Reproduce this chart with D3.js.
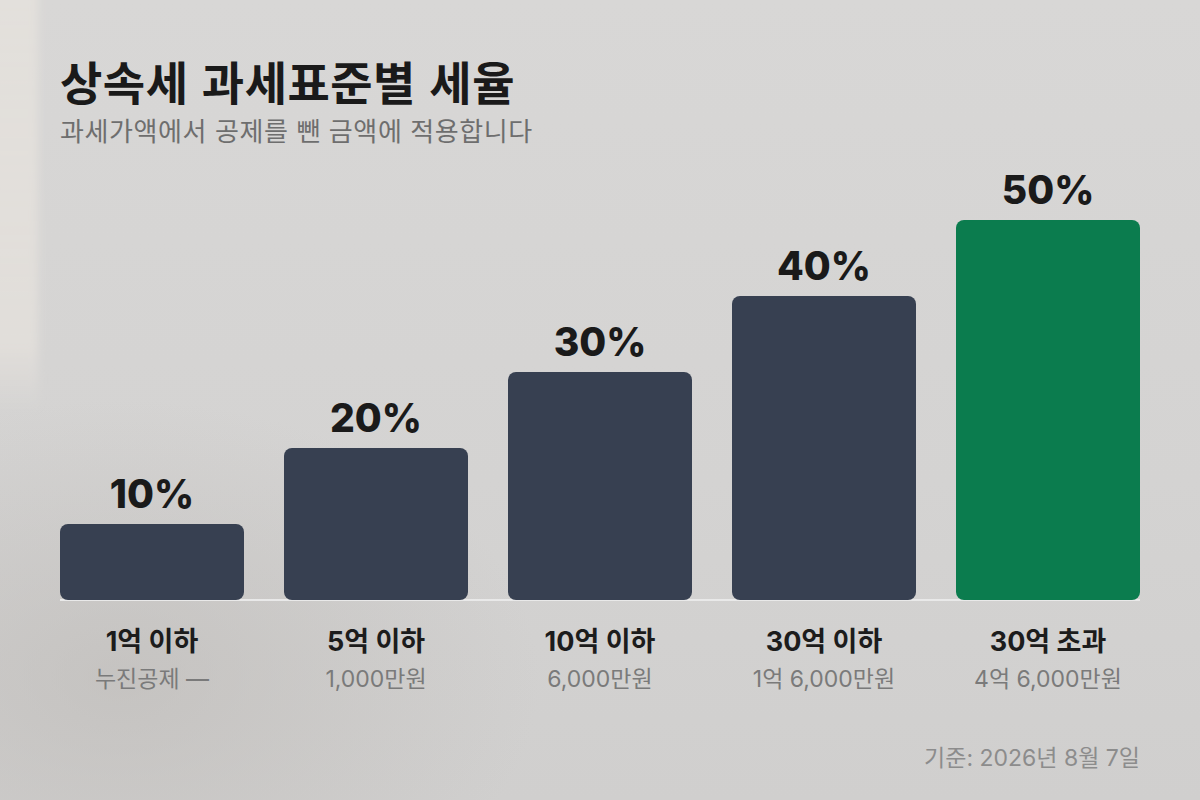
<!DOCTYPE html>
<html lang="ko">
<head>
<meta charset="utf-8">
<script src="https://cdn.jsdelivr.net/npm/d3@7"></script>
<style>
  html, body { margin: 0; padding: 0; background: #d3d2d1; }
  svg { display: block; }
</style>
</head>
<body>
<svg id="chart" width="1200" height="800"></svg>
<script>
const categories = ["1억 이하", "5억 이하", "10억 이하", "30억 이하", "30억 초과"];
const deductions = ["누진공제 —", "1,000만원", "6,000만원", "1억 6,000만원", "4억 6,000만원"];
const rates = [10, 20, 30, 40, 50];
const highlight = "30억 초과";
const title = "상속세 과세표준별 세율";
const subtitle = "과세가액에서 공제를 뺀 금액에 적용합니다";
const footnote = "기준: 2026년 8월 7일";

const W = 1200, H = 800;
const svg = d3.select("#chart");
const defs = svg.append("defs");
const KR = "Inter, 'Noto Sans CJK KR', sans-serif";

// background
const bgLin = defs.append("linearGradient").attr("id", "bgLin").attr("x1", 0).attr("y1", 0).attr("x2", 0).attr("y2", 1);
bgLin.append("stop").attr("offset", 0).attr("stop-color", "#d8d7d6");
bgLin.append("stop").attr("offset", 0.6).attr("stop-color", "#d4d3d2");
bgLin.append("stop").attr("offset", 1).attr("stop-color", "#d0cfce");
svg.append("rect").attr("width", W).attr("height", H).attr("fill", "url(#bgLin)");

const dark = defs.append("radialGradient").attr("id", "darkBL").attr("cx", 0.1).attr("cy", 0.85).attr("r", 0.35);
dark.append("stop").attr("offset", 0).attr("stop-color", "#bdbab7").attr("stop-opacity", 0.6);
dark.append("stop").attr("offset", 1).attr("stop-color", "#bdbab7").attr("stop-opacity", 0);
svg.append("rect").attr("width", W).attr("height", H).attr("fill", "url(#darkBL)");

const strip = defs.append("linearGradient").attr("id", "strip").attr("x1", 0).attr("y1", 0).attr("x2", 0).attr("y2", 1);
strip.append("stop").attr("offset", 0).attr("stop-color", "#e6e2dd").attr("stop-opacity", 0.8);
strip.append("stop").attr("offset", 0.85).attr("stop-color", "#e6e2dd").attr("stop-opacity", 0.7);
strip.append("stop").attr("offset", 1).attr("stop-color", "#e6e2dd").attr("stop-opacity", 0);
const blur = defs.append("filter").attr("id", "soft").attr("x", -1).attr("y", -1).attr("width", 3).attr("height", 3);
blur.append("feGaussianBlur").attr("stdDeviation", 4);
svg.append("rect").attr("x", -10).attr("y", -10).attr("width", 48).attr("height", 420)
  .attr("fill", "url(#strip)").attr("filter", "url(#soft)");

// scales
const x = d3.scaleBand().domain(categories).range([60, 1140]).paddingInner(40 / 224).paddingOuter(0);
const y = d3.scaleLinear().domain([0, 50]).range([600, 220]);

// baseline
svg.append("line").attr("x1", 60).attr("x2", 1140).attr("y1", y(0)).attr("y2", y(0))
  .attr("stroke", "#e9e9e9").attr("stroke-width", 2);

const data = categories.map((c, i) => ({ c, d: deductions[i], v: rates[i] }));

svg.append("g").selectAll("rect").data(data).join("rect")
  .attr("x", d => x(d.c)).attr("width", x.bandwidth())
  .attr("y", d => y(d.v)).attr("height", d => y(0) - y(d.v))
  .attr("rx", 8).attr("ry", 8)
  .attr("fill", d => d.c === highlight ? "#0b7c4e" : "#374051");

svg.append("g").selectAll("text").data(data).join("text")
  .attr("x", d => x(d.c) + x.bandwidth() / 2).attr("y", d => y(d.v) - 16)
  .attr("text-anchor", "middle")
  .attr("font-family", KR)
  .attr("font-weight", 800).attr("font-size", 39).attr("fill", "#1a1a1a")
  .text(d => d.v + "%");

svg.append("g").selectAll("text").data(data).join("text")
  .attr("x", d => x(d.c) + x.bandwidth() / 2).attr("y", 651)
  .attr("text-anchor", "middle")
  .attr("font-family", KR)
  .attr("font-weight", 700).attr("font-size", 27).attr("fill", "#1c1c1c")
  .text(d => d.c);

svg.append("g").selectAll("text").data(data).join("text")
  .attr("x", d => x(d.c) + x.bandwidth() / 2).attr("y", 687)
  .attr("text-anchor", "middle")
  .attr("font-family", KR)
  .attr("font-weight", 400).attr("font-size", 23).attr("fill", "#7a7a7a")
  .text(d => d.d);

svg.append("text").attr("x", 60).attr("y", 100)
  .attr("font-family", "'Noto Sans CJK KR', sans-serif")
  .attr("font-weight", 700).attr("font-size", 46).attr("letter-spacing", 0.5).attr("fill", "#1a1a1a")
  .text(title);

svg.append("text").attr("x", 60).attr("y", 141)
  .attr("font-family", "'Noto Sans CJK KR', sans-serif")
  .attr("font-weight", 400).attr("font-size", 26).attr("letter-spacing", 0.6).attr("fill", "#6e6e6e")
  .text(subtitle);

svg.append("text").attr("x", 1140).attr("y", 766).attr("text-anchor", "end")
  .attr("font-family", KR)
  .attr("font-weight", 400).attr("font-size", 23).attr("fill", "#8c8c8c")
  .text(footnote);
</script>
</body>
</html>
